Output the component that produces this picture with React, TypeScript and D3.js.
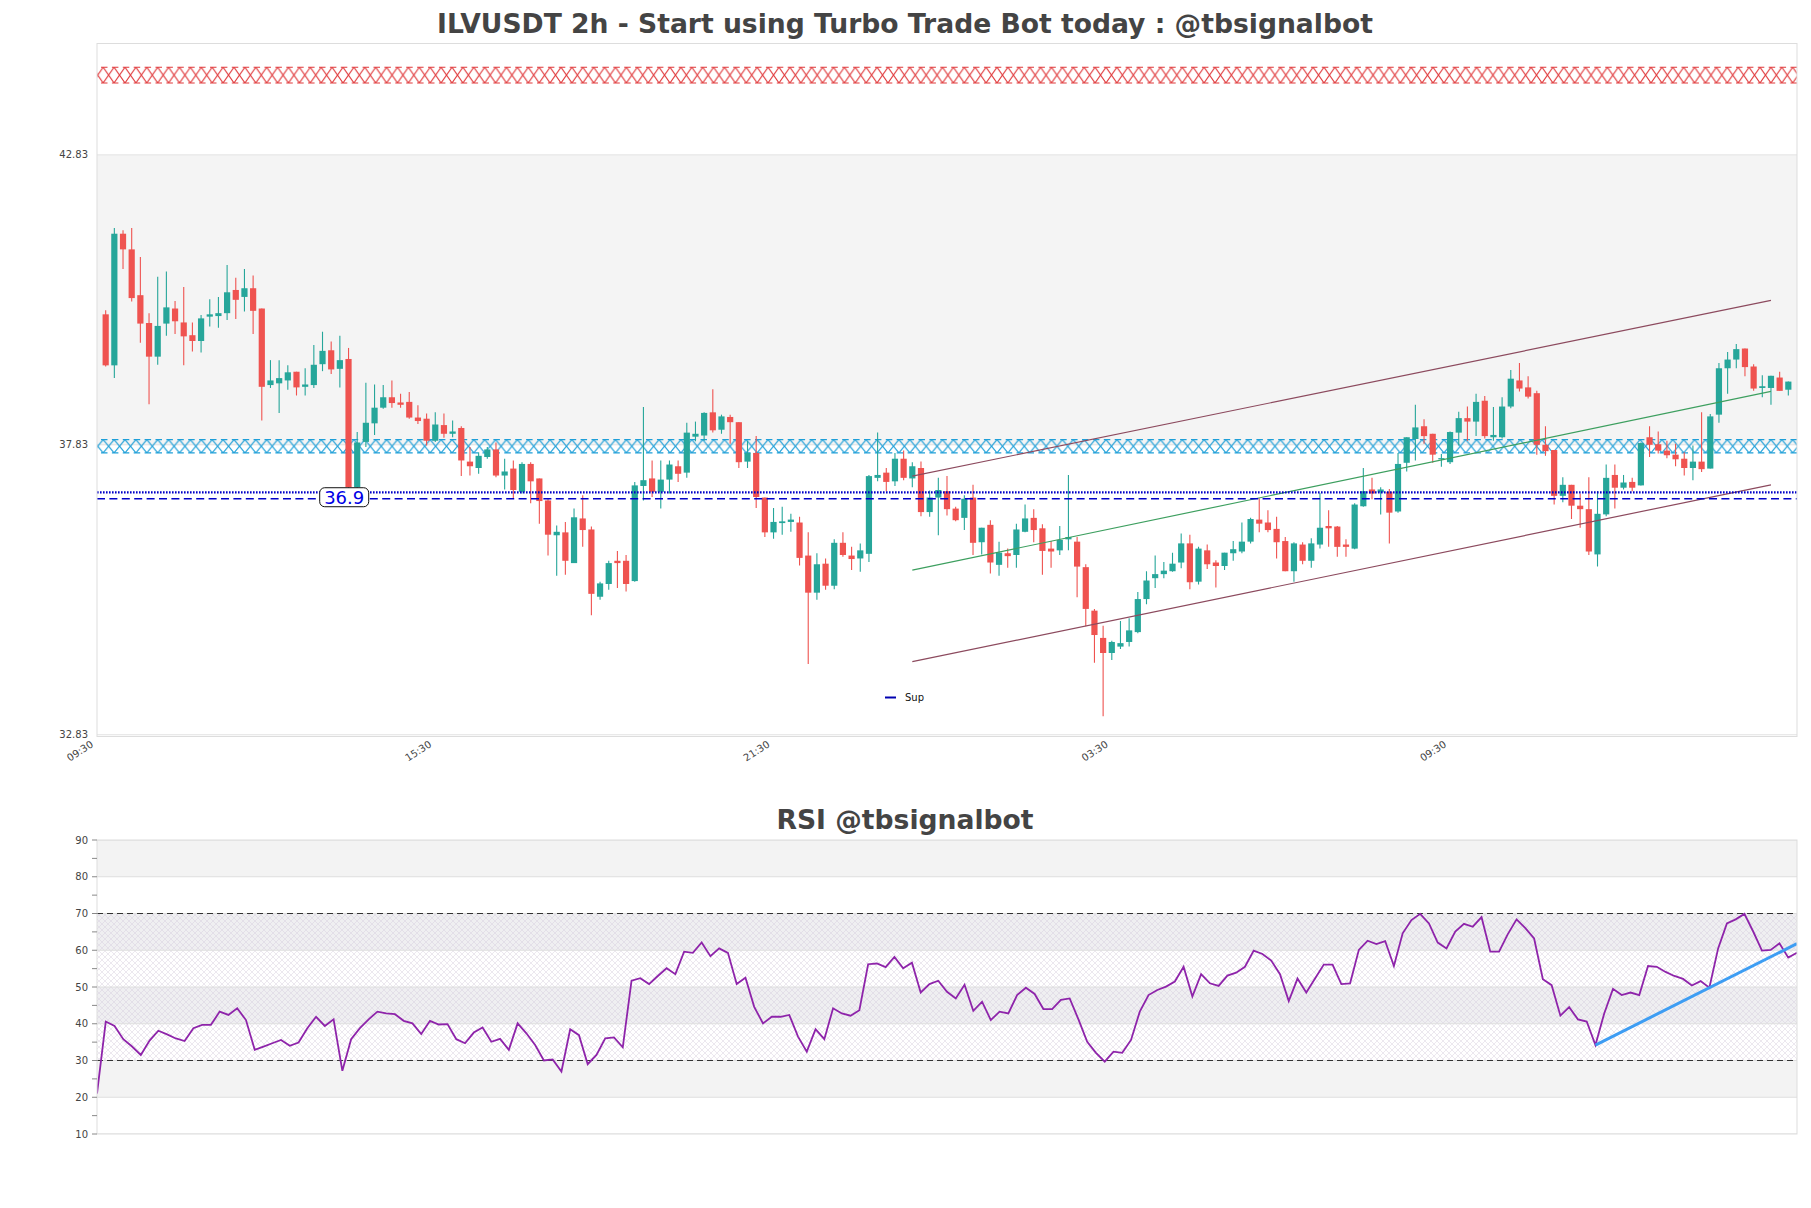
import React, { useEffect } from "react";
import * as d3 from "d3";

// candle data (one entry per bar)
const opens = [
  40.08, 39.2, 41.47, 41.2, 40.41, 39.93, 39.35, 39.92, 40.18, 39.94,
  39.72, 39.62, 40.04, 40.05, 40.1, 40.5, 40.38, 40.53, 40.18, 38.86,
  38.89, 38.94, 39.09, 38.83, 38.86, 39.22, 39.46, 39.14, 39.31, 37.1,
  37.88, 38.2, 38.47, 38.65, 38.56, 38.57, 38.3, 38.28, 37.9, 38.17,
  38.02, 38.12, 37.54, 37.43, 37.62, 37.75, 37.3, 37.42, 37.02, 37.5,
  37.25, 36.87, 36.27, 36.32, 35.79, 36.56, 36.37, 35.21, 35.43, 35.83,
  35.83, 35.48, 37.12, 37.25, 37.02, 37.23, 37.46, 37.35, 37.97, 37.99,
  38.39, 38.09, 38.31, 38.22, 37.54, 37.69, 36.92, 36.32, 36.48, 36.5,
  36.49, 35.92, 35.28, 35.78, 35.4, 36.14, 35.92, 35.87, 35.95, 37.26,
  37.35, 37.2, 37.59, 37.25, 37.43, 36.67, 36.92, 37.03, 36.73, 36.57,
  36.92, 36.15, 36.45, 35.76, 35.96, 35.93, 36.33, 36.57, 36.39, 36.04,
  36.01, 36.2, 36.16, 35.72, 34.97, 34.5, 34.24, 34.35, 34.43, 34.6,
  35.17, 35.53, 35.6, 35.65, 35.8, 36.13, 35.47, 36.01, 35.8, 35.74,
  35.96, 35.99, 36.16, 36.54, 36.49, 36.38, 36.17, 35.65, 36.11, 35.83,
  36.11, 36.43, 36.42, 36.11, 36.04, 36.77, 37.06, 37.01, 37.02, 36.68,
  37.52, 37.93, 38.15, 38.02, 37.58, 37.53, 38.04, 38.29, 38.23, 38.59,
  37.96, 37.96, 38.49, 38.94, 38.82, 38.72, 37.83, 37.74, 36.95, 37.14,
  36.78, 36.72, 35.94, 36.63, 37.31, 37.09, 37.19, 37.13, 37.96, 37.84,
  37.73, 37.66, 37.59, 37.43, 37.54, 37.42, 38.35, 39.15, 39.3, 39.49,
  39.18, 38.81, 38.81, 38.99, 38.78,
];
const highs = [
  40.15, 41.57, 41.53, 41.57, 41.07, 40.1, 40.73, 40.82, 40.31, 40.55,
  39.94, 40.07, 40.34, 40.38, 40.93, 40.71, 40.86, 40.75, 40.18, 39.29,
  39.29, 39.2, 39.09, 39.15, 39.55, 39.78, 39.61, 39.71, 39.5, 38.05,
  38.9, 38.87, 38.86, 38.94, 38.71, 38.74, 38.51, 38.37, 38.39, 38.37,
  38.25, 38.15, 37.79, 37.7, 37.79, 37.87, 37.59, 37.56, 37.53, 37.53,
  37.25, 36.9, 36.44, 36.5, 36.73, 36.96, 36.42, 35.47, 35.83, 36.0,
  35.93, 37.19, 38.48, 37.56, 37.56, 37.56, 37.56, 38.21, 38.23, 38.39,
  38.79, 38.35, 38.35, 38.22, 37.9, 37.98, 36.92, 36.74, 36.76, 36.64,
  36.59, 36.32, 35.96, 35.87, 36.2, 36.32, 36.07, 36.13, 37.31, 38.04,
  37.43, 37.69, 37.73, 37.53, 37.54, 37.04, 37.26, 37.29, 36.76, 36.96,
  37.14, 36.4, 36.53, 36.16, 36.04, 36.47, 36.8, 36.72, 36.46, 36.17,
  36.43, 37.31, 36.24, 35.77, 35.0, 34.71, 34.45, 34.79, 34.84, 35.29,
  35.65, 35.92, 35.81, 35.97, 36.3, 36.28, 36.07, 36.11, 35.84, 35.97,
  36.17, 36.49, 36.57, 36.91, 36.7, 36.59, 36.24, 36.15, 36.15, 36.22,
  37.0, 36.7, 36.43, 36.2, 36.82, 37.43, 37.26, 37.1, 37.07, 37.69,
  37.96, 38.52, 38.27, 38.02, 37.67, 38.06, 38.4, 38.49, 38.71, 38.67,
  38.48, 38.65, 39.12, 39.24, 39.01, 38.76, 38.15, 37.74, 37.27, 37.14,
  36.99, 37.27, 37.03, 37.49, 37.49, 37.31, 37.26, 37.87, 38.15, 38.06,
  37.9, 37.85, 37.7, 37.82, 38.39, 38.36, 39.24, 39.43, 39.57, 39.49,
  39.22, 39.03, 39.02, 39.09, 38.92,
];
const lows = [
  39.18, 38.98, 40.86, 40.3, 39.59, 38.53, 39.21, 39.71, 39.74, 39.2,
  39.44, 39.42, 39.87, 39.85, 39.98, 40.0, 40.13, 39.74, 38.25, 38.81,
  38.38, 38.78, 38.68, 38.68, 38.81, 39.1, 39.05, 38.82, 37.05, 37.05,
  37.79, 38.0, 38.45, 38.47, 38.47, 38.28, 38.19, 37.82, 37.88, 37.95,
  37.96, 37.29, 37.3, 37.33, 37.59, 37.27, 37.06, 36.9, 36.99, 36.82,
  36.47, 35.92, 35.57, 35.59, 35.79, 36.07, 34.89, 35.16, 35.33, 35.36,
  35.3, 35.47, 36.87, 36.93, 36.73, 36.99, 37.19, 37.26, 37.89, 37.9,
  38.04, 38.02, 37.85, 37.43, 37.43, 36.74, 36.24, 36.21, 36.28, 36.33,
  35.75, 34.05, 35.16, 35.33, 35.34, 35.9, 35.67, 35.64, 35.81, 37.2,
  37.03, 37.12, 37.22, 37.1, 36.6, 36.59, 36.27, 36.61, 36.51, 36.36,
  35.93, 35.94, 35.61, 35.57, 35.71, 35.71, 36.32, 36.15, 35.59, 35.71,
  35.93, 36.01, 35.2, 34.7, 34.07, 33.15, 34.12, 34.31, 34.35, 34.58,
  35.08, 35.36, 35.53, 35.64, 35.7, 35.34, 35.42, 35.69, 35.37, 35.67,
  35.83, 35.96, 36.13, 36.32, 36.32, 35.87, 35.65, 35.47, 35.77, 35.71,
  36.04, 36.07, 35.9, 35.9, 36.03, 36.76, 36.89, 36.63, 36.13, 36.66,
  37.37, 37.56, 37.85, 37.52, 37.45, 37.5, 37.82, 37.9, 37.98, 37.94,
  37.9, 37.94, 38.46, 38.75, 38.63, 37.66, 37.64, 36.8, 36.84, 36.55,
  36.4, 35.93, 35.73, 36.6, 36.73, 37.06, 37.03, 37.13, 37.62, 37.68,
  37.6, 37.46, 37.3, 37.22, 37.36, 37.42, 38.21, 38.71, 39.15, 39.01,
  38.76, 38.65, 38.52, 38.76, 38.68,
];
const closes = [
  39.2, 41.47, 41.2, 40.36, 39.92, 39.35, 39.88, 40.2, 39.96, 39.7,
  39.62, 40.01, 40.08, 40.1, 40.46, 40.33, 40.53, 40.14, 38.83, 38.94,
  38.98, 39.08, 38.82, 38.87, 39.21, 39.45, 39.13, 39.29, 37.1, 37.87,
  38.21, 38.47, 38.65, 38.55, 38.52, 38.3, 38.24, 37.9, 38.18, 38.02,
  38.06, 37.56, 37.46, 37.64, 37.75, 37.3, 37.37, 37.05, 37.5, 37.2,
  36.86, 36.28, 36.33, 35.83, 36.58, 36.36, 35.26, 35.44, 35.79, 35.79,
  35.43, 37.13, 37.22, 37.02, 37.23, 37.49, 37.33, 38.04, 38.02, 38.38,
  38.08, 38.32, 38.22, 37.53, 37.69, 36.93, 36.32, 36.5, 36.51, 36.54,
  35.88, 35.28, 35.77, 35.4, 36.14, 35.93, 35.86, 36.01, 37.29, 37.31,
  37.19, 37.59, 37.26, 37.46, 36.67, 36.92, 37.05, 36.72, 36.53, 36.9,
  36.14, 36.4, 35.8, 35.97, 35.91, 36.37, 36.56, 36.36, 36.0, 35.99,
  36.19, 36.24, 35.73, 35.0, 34.55, 34.24, 34.43, 34.41, 34.63, 35.17,
  35.49, 35.6, 35.66, 35.78, 36.13, 35.46, 36.04, 35.77, 35.74, 35.97,
  36.03, 36.16, 36.55, 36.47, 36.36, 36.15, 35.65, 36.13, 35.83, 36.13,
  36.4, 36.39, 36.07, 36.07, 36.8, 37.03, 36.99, 37.06, 36.66, 37.5,
  37.96, 38.13, 37.98, 37.66, 37.6, 38.05, 38.29, 38.23, 38.57, 37.98,
  38.0, 38.49, 38.97, 38.8, 38.66, 37.83, 37.72, 36.95, 37.14, 36.78,
  36.72, 35.99, 36.64, 37.26, 37.09, 37.18, 37.09, 37.86, 37.83, 37.73,
  37.65, 37.58, 37.43, 37.54, 37.41, 38.32, 39.15, 39.3, 39.48, 39.17,
  38.8, 38.84, 39.02, 38.76, 38.92,
];

const rsiValues = [
  21.0, 40.6, 39.4, 35.8, 33.8, 31.5, 35.4, 38.1, 37.1, 36.0,
  35.3, 38.8, 39.7, 39.7, 43.3, 42.4, 44.2, 41.0, 32.9, 33.8,
  34.7, 35.6, 34.0, 34.9, 38.8, 41.9, 39.4, 41.2, 27.2, 35.8,
  38.8, 41.2, 43.3, 42.8, 42.6, 40.8, 40.1, 37.2, 40.8, 39.8,
  39.9, 35.8, 34.7, 37.6, 39.0, 35.1, 35.9, 32.9, 40.1, 37.4,
  34.2, 30.0, 30.3, 27.0, 38.5, 36.9, 29.0, 31.5, 36.0, 36.3,
  33.6, 51.7, 52.4, 50.8, 53.0, 55.1, 53.5, 59.6, 59.3, 62.1,
  58.4, 60.5, 59.3, 50.8, 52.5, 44.6, 40.1, 41.9, 41.9, 42.4,
  36.5, 32.4, 38.5, 35.8, 44.2, 42.8, 42.2, 43.7, 56.2, 56.4,
  55.4, 58.2, 55.1, 56.6, 48.5, 50.8, 51.7, 48.7, 46.9, 50.6,
  43.5, 46.0, 41.0, 43.3, 42.8, 47.8, 49.8, 48.1, 44.0, 44.0,
  46.5, 46.9, 41.2, 35.1, 32.1, 29.7, 32.4, 32.1, 35.6, 43.3,
  47.8, 49.2, 50.1, 51.5, 55.5, 47.4, 53.5, 51.0, 50.3, 53.1,
  53.9, 55.5, 59.9, 59.0, 57.2, 53.5, 46.2, 52.3, 48.5, 52.3,
  56.1, 56.1, 50.8, 51.0, 60.1, 62.6, 61.7, 62.5, 55.7, 64.6,
  68.2, 69.9, 67.3, 62.1, 60.5, 65.1, 67.2, 66.4, 69.0, 59.6,
  59.6, 64.4, 68.4, 66.0, 63.2, 52.1, 50.5, 42.2, 44.5, 41.2,
  40.6, 34.2, 42.8, 49.5, 47.8, 48.5, 47.8, 55.7, 55.5, 54.1,
  53.0, 52.2, 50.4, 51.6, 49.8, 60.5, 67.3, 68.4, 69.9, 65.1,
  59.9, 60.1, 61.9, 58.0, 59.3,
];

const xTickIndex = [-1, 38, 77, 116, 155];
const xTickLabels = ["09:30", "15:30", "21:30", "03:30", "09:30"];
const priceTicks = [32.83, 37.83, 42.83];
const rsiTicks = [10, 20, 30, 40, 50, 60, 70, 80, 90];

// levels and drawn lines, as [bar index, price]
const supportDotted = 37.01;
const supportDashed = 36.9;
const supportLabel = "36.9";
const supportLabelIndex = 27.5;
const resistanceBand = [44.07, 44.34];
const supplyBand = [37.69, 37.92];
const greyZone = [37.83, 42.83];
const channelUpper = [[93, 37.29], [192, 40.32]];
const channelLower = [[93, 34.09], [192, 37.14]];
const channelMid = [[93, 35.67], [192, 38.75]];
const rsiTrend = [[171, 34.2], [194, 61.8]];

const TEAL = "#26a69a";
const RED = "#ef5350";
const FONT = "DejaVu Sans, sans-serif";

const App = () => {
  useEffect(() => {
    document.body.style.margin = "0";
  }, []);

  const left = 97;
  const right = 1797;

  // main panel scales
  const x = d3.scaleLinear().domain([-1, 195]).range([left, right]);
  const y = d3.scaleLinear().domain([32.8, 44.75]).range([736.5, 43.5]);
  // rsi panel scales
  const xr = d3.scaleLinear().domain([0, rsiValues.length - 1]).range([left, right]);
  const yr = d3.scaleLinear().domain([10, 90]).range([1134, 840]);

  const candles = opens.map((o, i) => ({
    i,
    o,
    h: highs[i],
    l: lows[i],
    c: closes[i],
  }));
  const bodyW = 6.2;

  const priceLine = d3
    .line<number[]>()
    .x((d) => x(d[0]))
    .y((d) => y(d[1]));
  const rsiLine = d3
    .line<number>()
    .x((d, i) => xr(i))
    .y((d) => yr(d));
  const rsiTrendLine = d3
    .line<number[]>()
    .x((d) => xr(d[0]))
    .y((d) => yr(d[1]));

  const bandRect = (band: number[]) => ({
    y: y(band[1]),
    h: y(band[0]) - y(band[1]),
  });
  const red = bandRect(resistanceBand);
  const blue = bandRect(supplyBand);
  const hatchW = 10.9;

  const rsiBands = [
    { lo: 80, hi: 90, fill: "#f3f3f3", hatch: false },
    { lo: 60, hi: 70, fill: "#efeff1", hatch: true },
    { lo: 50, hi: 60, fill: "#ffffff", hatch: true },
    { lo: 40, hi: 50, fill: "#efeff1", hatch: true },
    { lo: 30, hi: 40, fill: "#ffffff", hatch: true },
    { lo: 20, hi: 30, fill: "#f3f3f3", hatch: false },
  ];
  const rsiMinor = d3.range(10, 91, 5);

  // hatched horizontal zone with dashed edges
  const hatchBand = (b: { y: number; h: number }, id: string, col: string) => (
    <g>
      <rect x={left} y={b.y} width={right - left} height={b.h} fill={`url(#${id})`} />
      {[b.y, b.y + b.h].map((yy, k) => (
        <line
          key={k}
          x1={left}
          x2={right}
          y1={yy}
          y2={yy}
          stroke={col}
          strokeWidth={1.1}
          strokeDasharray="6.5,4.4"
          strokeDashoffset={-4}
        />
      ))}
    </g>
  );

  return (
    <svg
      width={1811}
      height={1208}
      style={{ display: "block", background: "#fff", fontFamily: FONT }}
    >
      <defs>
        <pattern id="hatchRed" patternUnits="userSpaceOnUse" x={103.2} y={red.y} width={hatchW} height={red.h}>
          <path d={`M0,0L${hatchW},${red.h}M${hatchW},0L0,${red.h}`} stroke="#e0393b" strokeWidth={1.1} fill="none" />
        </pattern>
        <pattern id="hatchBlue" patternUnits="userSpaceOnUse" x={103.2} y={blue.y} width={hatchW} height={blue.h}>
          <path d={`M0,0L${hatchW},${blue.h}M${hatchW},0L0,${blue.h}`} stroke="#1e9fd8" strokeWidth={1.1} fill="none" />
        </pattern>
        <pattern id="hatchRsi" patternUnits="userSpaceOnUse" width={6} height={6}>
          <path d="M0,0L6,6M6,0L0,6" stroke="#d6cedd" strokeWidth={0.6} fill="none" />
        </pattern>
        <clipPath id="mainClip">
          <rect x={left} y={43.5} width={right - left} height={693} />
        </clipPath>
        <clipPath id="rsiClip">
          <rect x={left} y={840} width={right - left} height={294} />
        </clipPath>
      </defs>

      {/* titles */}
      <text x={905} y={33} textAnchor="middle" fontSize={26.6} fontWeight="bold" fill="#444">
        ILVUSDT 2h - Start using Turbo Trade Bot today : @tbsignalbot
      </text>
      <text x={905} y={829} textAnchor="middle" fontSize={26.6} fontWeight="bold" fill="#444">
        RSI @tbsignalbot
      </text>

      {/* main panel */}
      <g clipPath="url(#mainClip)">
        <rect
          x={left}
          y={y(greyZone[1])}
          width={right - left}
          height={y(greyZone[0]) - y(greyZone[1])}
          fill="#f4f4f4"
        />
        {priceTicks.map((t) => (
          <line key={t} x1={left} x2={right} y1={y(t)} y2={y(t)} stroke="#e2e2e2" />
        ))}
        {hatchBand(red, "hatchRed", "#e0393b")}
        {hatchBand(blue, "hatchBlue", "#1e9fd8")}

        {candles.map((d) => {
          const col = d.c >= d.o ? TEAL : RED;
          const top = y(Math.max(d.o, d.c));
          const bot = y(Math.min(d.o, d.c));
          return (
            <g key={d.i}>
              <line x1={x(d.i)} x2={x(d.i)} y1={y(d.h)} y2={y(d.l)} stroke={col} strokeWidth={1.1} />
              <rect
                x={x(d.i) - bodyW / 2}
                y={top}
                width={bodyW}
                height={Math.max(1.2, bot - top)}
                fill={col}
              />
            </g>
          );
        })}

        <path d={priceLine(channelUpper) || ""} stroke="#8c4a5e" strokeWidth={1.2} fill="none" />
        <path d={priceLine(channelLower) || ""} stroke="#8c4a5e" strokeWidth={1.2} fill="none" />
        <path d={priceLine(channelMid) || ""} stroke="#3d9f5f" strokeWidth={1.2} fill="none" />

        <line
          x1={left}
          x2={right}
          y1={y(supportDotted)}
          y2={y(supportDotted)}
          stroke="#0000c8"
          strokeWidth={2.4}
          strokeDasharray="1.6,1.4"
        />
        <line
          x1={left}
          x2={right}
          y1={y(supportDashed)}
          y2={y(supportDashed)}
          stroke="#0000c8"
          strokeWidth={1.4}
          strokeDasharray="8,4.4"
        />
      </g>

      {/* support label */}
      <rect
        x={x(supportLabelIndex) - 24.5}
        y={y(supportDashed) - 11}
        width={49}
        height={19}
        rx={5}
        fill="#fff"
        stroke="#111"
        strokeWidth={1}
      />
      <text
        x={x(supportLabelIndex)}
        y={y(supportDashed) + 5}
        textAnchor="middle"
        fontSize={18}
        fill="#0000e6"
      >
        {supportLabel}
      </text>

      {/* legend */}
      <line x1={885} x2={896} y1={697.5} y2={697.5} stroke="#0000b0" strokeWidth={2} />
      <text x={905} y={701} fontSize={10} fill="#111">
        Sup
      </text>

      <rect x={left} y={43.5} width={right - left} height={693} fill="none" stroke="#dddddd" />

      {priceTicks.map((t) => (
        <text key={t} x={88} y={y(t) + 3.5} textAnchor="end" fontSize={10} fill="#444">
          {t.toFixed(2)}
        </text>
      ))}
      {xTickIndex.map((t, k) => (
        <text
          key={k}
          transform={`translate(${x(t) - 3},${746}) rotate(-33)`}
          textAnchor="end"
          fontSize={10}
          fill="#444"
        >
          {xTickLabels[k]}
        </text>
      ))}

      {/* rsi panel */}
      <g clipPath="url(#rsiClip)">
        {rsiBands.map((b) => (
          <g key={b.lo}>
            <rect x={left} y={yr(b.hi)} width={right - left} height={yr(b.lo) - yr(b.hi)} fill={b.fill} />
            {b.hatch && (
              <rect
                x={left}
                y={yr(b.hi)}
                width={right - left}
                height={yr(b.lo) - yr(b.hi)}
                fill="url(#hatchRsi)"
                opacity={0.8}
              />
            )}
          </g>
        ))}
        {rsiTicks.map((t) => (
          <line key={t} x1={left} x2={right} y1={yr(t)} y2={yr(t)} stroke="#dedede" />
        ))}
        {[30, 70].map((t) => (
          <line
            key={t}
            x1={left}
            x2={right}
            y1={yr(t)}
            y2={yr(t)}
            stroke="#333"
            strokeWidth={1.2}
            strokeDasharray="6,4"
          />
        ))}
        <path d={rsiLine(rsiValues) || ""} stroke="#8e24aa" strokeWidth={1.8} fill="none" />
        <path d={rsiTrendLine(rsiTrend) || ""} stroke="#3d9df3" strokeWidth={3} fill="none" />
      </g>
      <rect x={left} y={840} width={right - left} height={294} fill="none" stroke="#dddddd" />
      {rsiMinor.map((t) => (
        <line key={t} x1={left - 5} x2={left} y1={yr(t)} y2={yr(t)} stroke="#888" />
      ))}
      {rsiTicks.map((t) => (
        <text key={t} x={88} y={yr(t) + 3.5} textAnchor="end" fontSize={10} fill="#444">
          {t}
        </text>
      ))}
    </svg>
  );
};

export default App;
